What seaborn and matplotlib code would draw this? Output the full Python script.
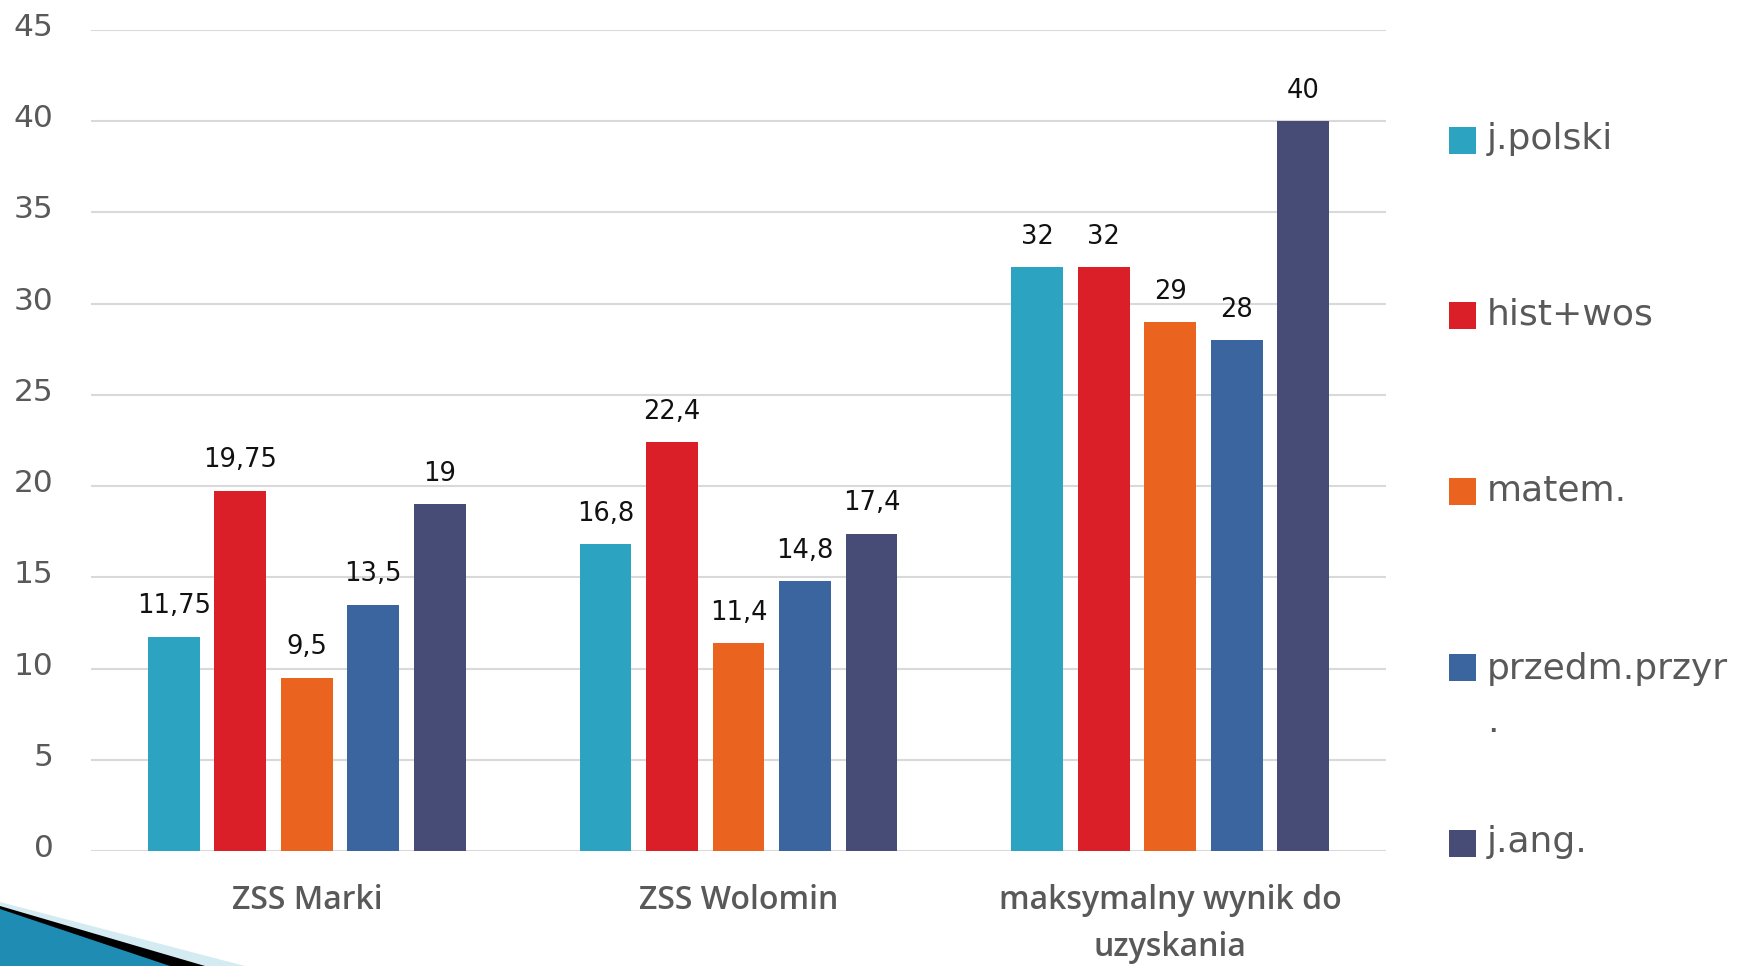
import matplotlib
matplotlib.use("Agg")
import matplotlib.pyplot as plt
from matplotlib.patches import Rectangle, Polygon
from matplotlib.transforms import ScaledTranslation
import seaborn as sns
import pandas as pd

# ---- data ----
categories = ["ZSS Marki", "ZSS Wolomin", "maksymalny wynik do\nuzyskania"]
subjects = ["j.polski", "hist+wos", "matem.", "przedm.przyr.", "j.ang."]
legend_labels = ["j.polski", "hist+wos", "matem.", "przedm.przyr\n.", "j.ang."]
j_polski = [11.75, 16.8, 32]
hist_wos = [19.75, 22.4, 32]
matem = [9.5, 11.4, 29]
przedm_przyr = [13.5, 14.8, 28]
j_ang = [19, 17.4, 40]
series = [j_polski, hist_wos, matem, przedm_przyr, j_ang]
y_ticks = [0, 5, 10, 15, 20, 25, 30, 35, 40, 45]

colors = ["#2CA3C0", "#DA1F28", "#EA6420", "#3A659E", "#474C77"]

rows = []
for subj, vals in zip(subjects, series):
    for cat, v in zip(categories, vals):
        rows.append({"category": cat, "subject": subj, "value": v})
df = pd.DataFrame(rows)

sns.set_theme(style="white")
plt.rcParams["font.family"] = ["DejaVu Sans"]

W, H = 1739, 966
fig = plt.figure(figsize=(W / 100, H / 100), dpi=100)
ax = fig.add_axes([91 / W, 1 - 851 / H, (1386 - 91) / W, (851 - 30) / H])

sns.barplot(data=df, x="category", y="value", hue="subject", order=categories,
            hue_order=subjects, palette=colors, width=0.77, gap=0.22,
            saturation=1, linewidth=0, legend=False, ax=ax)

def fmt(v):
    return f"{v:g}".replace(".", ",")

for cont, vals in zip(ax.containers, series):
    ax.bar_label(cont, labels=[fmt(v) for v in vals], padding=12.5,
                 fontsize=18.5, color="#111111")

ax.set_ylim(0, 45)
ax.set_xlim(-0.5, 2.5)
ax.set_yticks(y_ticks)
ax.set_yticklabels([str(t) for t in y_ticks], fontsize=22.5, color="#595959")
ax.tick_params(axis="y", length=0, pad=27)
ax.tick_params(axis="x", length=0, pad=24)
shift = ScaledTranslation(0, 5.5 / 100, fig.dpi_scale_trans)
for lab in ax.get_yticklabels():
    lab.set_transform(lab.get_transform() + shift)
for lab in ax.get_xticklabels():
    lab.set_fontfamily(["Open Sans", "DejaVu Sans"])
    lab.set_fontweight("semibold")
    lab.set_fontsize(23)
    lab.set_color("#595959")
    lab.set_linespacing(1.55)
ax.set_xlabel("")
ax.set_ylabel("")
ax.yaxis.grid(True, color="#D9D9D9", linewidth=1.5)
ax.xaxis.grid(False)
ax.set_axisbelow(True)
for s in ax.spines.values():
    s.set_visible(False)

# ---- legend (manual, right side) ----
for i, (lab, col) in enumerate(zip(legend_labels, colors)):
    yc = 140 + 175.75 * i
    fig.add_artist(Rectangle((1449 / W, 1 - (yc + 13.5) / H), 27 / W, 27 / H,
                             transform=fig.transFigure, facecolor=col,
                             edgecolor="none"))
    extra = lab.count("\n") * 56
    fig.text(1487 / W, 1 - (yc + 9 + extra) / H, lab, fontsize=26,
             color="#595959", va="baseline", ha="left", linespacing=1.7)

# ---- decoration bottom-left ----
def poly(pts, col, z):
    fig.add_artist(Polygon([(x / W, 1 - y / H) for x, y in pts], closed=True,
                           transform=fig.transFigure, facecolor=col,
                           edgecolor="none", zorder=z))

poly([(0, 902), (245, 966), (0, 966)], "#D4EBF2", 0.1)
poly([(0, 906), (205, 966), (0, 966)], "#000000", 0.2)
poly([(0, 909), (170, 966), (0, 966)], "#1F8DB3", 0.3)

fig.savefig("out.png", dpi=100)
